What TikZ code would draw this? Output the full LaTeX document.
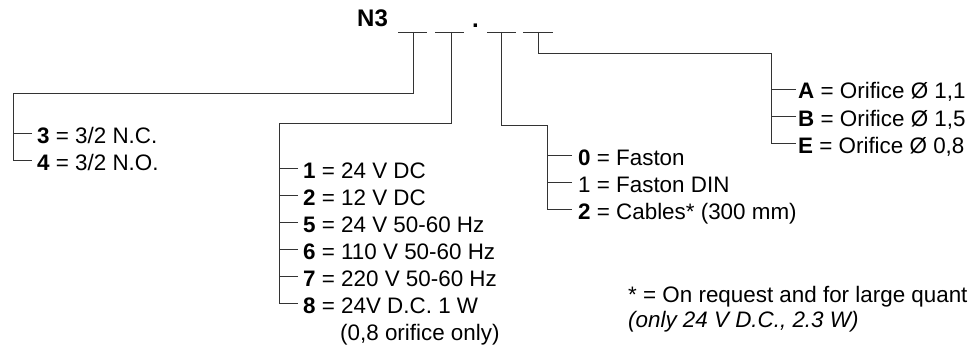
\documentclass[tikz,border=0pt]{standalone}
\usepackage{fontspec}
\setmainfont{Liberation Sans}
\begin{document}
\begin{tikzpicture}[x=1pt,y=-1pt,
  conn/.style={draw=black!80, line width=0.9pt},
  lbl/.style={anchor=base west, inner sep=0pt, font=\fontsize{22.4}{27}\selectfont, text=black},
  hdr/.style={anchor=base west, inner sep=0pt, font=\fontsize{24}{28}\selectfont\bfseries, text=black}]
\useasboundingbox (0,0) rectangle (972,345);

% header
\node[hdr] (title) at (357,27) {N3};
\node[hdr] (dot) at (472,28) {.};
\coordinate (b1a) at (398,32); \coordinate (b1b) at (427,32); \coordinate (b1) at (413,32);
\coordinate (b2a) at (435,32); \coordinate (b2b) at (464,32); \coordinate (b2) at (451,32);
\coordinate (b3a) at (487,32); \coordinate (b3b) at (516,32); \coordinate (b3) at (501,32);
\coordinate (b4a) at (523,32); \coordinate (b4b) at (553,32); \coordinate (b4) at (538,32);
\draw[conn] (b1a) -- (b1b);
\draw[conn] (b2a) -- (b2b);
\draw[conn] (b3a) -- (b3b);
\draw[conn] (b4a) -- (b4b);

% group 1
\node[lbl] (l3) at (37,143) {\textbf{3} = 3/2 N.C.};
\node[lbl] (l4) at (37,170) {\textbf{4} = 3/2 N.O.};
\coordinate (lc) at (13,93);
\draw[conn] (b1) |- (lc) |- ([xshift=-5pt,yshift=10pt]l4.base west);
\draw[conn] ([xshift=-5pt,yshift=10pt]l3.base west) -- ++(-19,0);

% group 2
\node[lbl] (v1) at (303,178) {\textbf{1} = 24 V DC};
\node[lbl] (v2) at (303,205) {\textbf{2} = 12 V DC};
\node[lbl] (v5) at (303,232) {\textbf{5} = 24 V 50-60 Hz};
\node[lbl] (v6) at (303,259) {\textbf{6} = 110 V 50-60 Hz};
\node[lbl] (v7) at (303,286) {\textbf{7} = 220 V 50-60 Hz};
\node[lbl] (v8) at (303,313) {\textbf{8} = 24V D.C. 1 W};
\node[lbl] (v8b) at (340,340) {(0,8 orifice only)};
\coordinate (mc) at (279,123);
\draw[conn] (b2) |- (mc) |- ([xshift=-5pt,yshift=10pt]v8.base west);
\foreach \n in {v1,v2,v5,v6,v7}
  \draw[conn] ([xshift=-5pt,yshift=10pt]\n.base west) -- ++(-19,0);

% group 3
\node[lbl] (f0) at (578,165) {\textbf{0} = Faston};
\node[lbl] (f1) at (578,192) {1 = Faston DIN};
\node[lbl] (f2) at (578,219) {\textbf{2} = Cables* (300 mm)};
\coordinate (fc) at (547,125);
\draw[conn] (b3) |- (fc) |- ([xshift=-6pt,yshift=10pt]f2.base west);
\foreach \n in {f0,f1}
  \draw[conn] ([xshift=-6pt,yshift=10pt]\n.base west) -- ++(-25,0);

% group 4
\node[lbl] (oA) at (798,99) {\textbf{A} = Orifice Ø 1,1};
\node[lbl] (oB) at (798,126) {\textbf{B} = Orifice Ø 1,5};
\node[lbl] (oE) at (798,153) {\textbf{E} = Orifice Ø 0,8};
\coordinate (oc) at (771,53);
\draw[conn] (b4) |- (oc) |- ([xshift=-2pt,yshift=10pt]oE.base west);
\foreach \n in {oA,oB}
  \draw[conn] ([xshift=-2pt,yshift=10pt]\n.base west) -- ++(-25,0);

% footnote
\node[lbl] (n1) at (628,302) {* = On request and for large quant};
\node[lbl, font=\fontsize{22.4}{27}\selectfont\itshape] (n2) at (628,327) {(only 24 V D.C., 2.3 W)};
\end{tikzpicture}
\end{document}
